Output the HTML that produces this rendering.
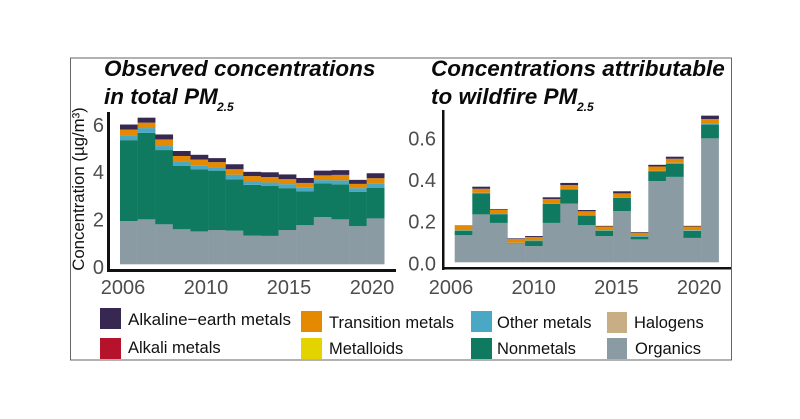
<!DOCTYPE html>
<html lang="en">
<head>
<meta charset="utf-8">
<title>PM2.5 concentrations</title>
<style>
html,body{margin:0;padding:0;background:#fff;width:800px;height:419px;overflow:hidden}
svg{display:block;font-family:"Liberation Sans",Arial,sans-serif}
.tick{font-size:20px;fill:#4d4d4d}
.leg{font-size:16.5px;fill:#111}
.leg-wide{font-size:17px}
.title{font-size:22.5px;font-weight:bold;font-style:italic;fill:#0a0a0a}
.sub{font-size:12px;font-weight:bold;font-style:italic;fill:#0a0a0a}
</style>
</head>
<body>
<svg id="chart" width="800" height="419" viewBox="0 0 800 419" xmlns="http://www.w3.org/2000/svg">
  <rect x="70.5" y="58" width="661" height="302" fill="#fff" stroke="#666" stroke-width="1"/>

  <text class="title" x="104" y="76">Observed concentrations</text>
  <text class="title" x="104" y="104">in total PM</text>
  <text class="sub" x="217" y="111">2.5</text>
  <text class="title" x="431" y="76">Concentrations attributable</text>
  <text class="title" x="431" y="104">to wildfire PM</text>
  <text class="sub" x="577" y="111">2.5</text>

  <text transform="translate(84,189) rotate(-90)" text-anchor="middle" font-size="16.8" fill="#111">Concentration (µg/m³)</text>

  <g id="left-panel"></g>
  <g id="right-panel"></g>

  <rect x="107" y="112" width="3" height="160" fill="#111"/>
  <rect x="107" y="269" width="289" height="3" fill="#111"/>
  <rect x="442" y="110" width="2.5" height="160" fill="#111"/>
  <rect x="442" y="267" width="289" height="2.5" fill="#111"/>

  <g>
    <g>
      <rect x="100" y="308" width="21" height="21" fill="#362850"/>
      <text class="leg leg-wide" x="128" y="325">Alkaline−earth metals</text>
    </g>
    <g>
      <rect x="100" y="338" width="21" height="21" fill="#b5122b"/>
      <text class="leg" x="128" y="353">Alkali metals</text>
    </g>
    <g>
      <rect x="301" y="311" width="21" height="21" fill="#e58a00"/>
      <text class="leg" x="329" y="328">Transition metals</text>
    </g>
    <g>
      <rect x="301" y="338" width="21" height="21" fill="#e3d400"/>
      <text class="leg" x="329" y="354">Metalloids</text>
    </g>
    <g>
      <rect x="471" y="311" width="21" height="21" fill="#4aa8c4"/>
      <text class="leg" x="497" y="328">Other metals</text>
    </g>
    <g>
      <rect x="471" y="338" width="21" height="21" fill="#0f7a60"/>
      <text class="leg" x="497" y="354">Nonmetals</text>
    </g>
    <g>
      <rect x="607" y="312" width="20" height="21" fill="#c8ae85"/>
      <text class="leg" x="634" y="328">Halogens</text>
    </g>
    <g>
      <rect x="607" y="338" width="20" height="21" fill="#8a9ba3"/>
      <text class="leg" x="635" y="354">Organics</text>
    </g>
  </g>
</svg>

<script>
var years = [2006,2007,2008,2009,2010,2011,2012,2013,2014,2015,2016,2017,2018,2019,2020];
var layerNames = ["organics","nonmetals","other-metals","transition-metals","alkaline-earth-metals"];
var layerColors = ["#8a9ba3","#0f7a60","#4aa8c4","#e58a00","#362850"];

var obsOrganics   = [1.83,1.90,1.69,1.48,1.39,1.45,1.42,1.21,1.20,1.45,1.65,2.00,1.90,1.61,1.94];
var obsNonmetals  = [3.42,3.66,3.14,2.69,2.62,2.51,2.17,2.15,2.11,1.77,1.44,1.42,1.48,1.46,1.30];
var obsOther      = [0.20,0.20,0.17,0.18,0.18,0.15,0.20,0.14,0.15,0.17,0.15,0.14,0.17,0.15,0.17];
var obsTransition = [0.25,0.23,0.28,0.23,0.24,0.21,0.23,0.23,0.23,0.21,0.20,0.20,0.23,0.18,0.23];
var obsAlkaline   = [0.21,0.21,0.21,0.21,0.20,0.17,0.21,0.18,0.20,0.20,0.21,0.20,0.20,0.17,0.21];

var fireOrganics   = [0.130,0.230,0.189,0.090,0.078,0.189,0.282,0.178,0.126,0.246,0.110,0.390,0.410,0.117,0.595];
var fireNonmetals  = [0.022,0.101,0.042,0.002,0.024,0.091,0.067,0.046,0.026,0.064,0.013,0.046,0.062,0.034,0.066];
var fireOther      = [0.002,0.003,0.003,0.002,0.003,0.003,0.003,0.003,0.002,0.003,0.003,0.003,0.006,0.003,0.006];
var fireTransition = [0.021,0.019,0.019,0.018,0.016,0.021,0.019,0.018,0.018,0.018,0.016,0.021,0.019,0.018,0.021];
var fireAlkaline   = [0.002,0.010,0.003,0.003,0.005,0.008,0.010,0.006,0.003,0.010,0.003,0.008,0.010,0.003,0.016];

var xTickLabels = ["2006","2010","2015","2020"];
var obsYTicks = [0,2,4,6];
var obsYTickLabels = ["0","2","4","6"];
var fireYTicks = [0,0.2,0.4,0.6];
var fireYTickLabels = ["0.0","0.2","0.4","0.6"];

var SVGNS = "http://www.w3.org/2000/svg";

function drawPanel(groupId, prefix, series, yTicks, yLabels, cfg) {
  var g = document.getElementById(groupId);
  var bw = (cfg.x1 - cfg.x0) / years.length;
  function xScale(i) { return cfg.x0 + i * bw; }
  function yScale(v) { return cfg.base - v * cfg.pxPerUnit; }

  years.forEach(function (yr, i) {
    var cum = 0;
    series.forEach(function (vals, s) {
      var top = yScale(cum + vals[i]);
      var bot = yScale(cum);
      var r = document.createElementNS(SVGNS, "rect");
      r.setAttribute("x", xScale(i));
      r.setAttribute("y", top);
      r.setAttribute("width", bw + 0.2);
      r.setAttribute("height", Math.max(bot - top, 0));
      r.setAttribute("fill", layerColors[s]);
      
      
      g.appendChild(r);
      cum += vals[i];
    });
  });

  yTicks.forEach(function (v, i) {
    var t = document.createElementNS(SVGNS, "text");
    t.setAttribute("class", "tick");
    t.setAttribute("x", cfg.yLabelX);
    t.setAttribute("y", yScale(v) + cfg.yLabelDy);
    t.setAttribute("text-anchor", "end");
    t.textContent = yLabels[i];
    
    
    g.appendChild(t);
  });

  xTickLabels.forEach(function (lab, i) {
    var t = document.createElementNS(SVGNS, "text");
    t.setAttribute("class", "tick");
    t.setAttribute("x", cfg.xLabelStart + i * cfg.xLabelStep);
    t.setAttribute("y", 294);
    t.setAttribute("text-anchor", "middle");
    t.textContent = lab;
    
    
    g.appendChild(t);
  });
}

drawPanel("left-panel", "observed",
  [obsOrganics, obsNonmetals, obsOther, obsTransition, obsAlkaline],
  obsYTicks, obsYTickLabels,
  { x0: 120, x1: 384.3, base: 264.3, pxPerUnit: 23.65, yLabelX: 104, yLabelDy: 9.5, xLabelStart: 123, xLabelStep: 83 });

drawPanel("right-panel", "wildfire",
  [fireOrganics, fireNonmetals, fireOther, fireTransition, fireAlkaline],
  fireYTicks, fireYTickLabels,
  { x0: 454.7, x1: 718.7, base: 262.3, pxPerUnit: 208.3, yLabelX: 436, yLabelDy: 8, xLabelStart: 451, xLabelStep: 82.7 });
</script>
</body>
</html>
